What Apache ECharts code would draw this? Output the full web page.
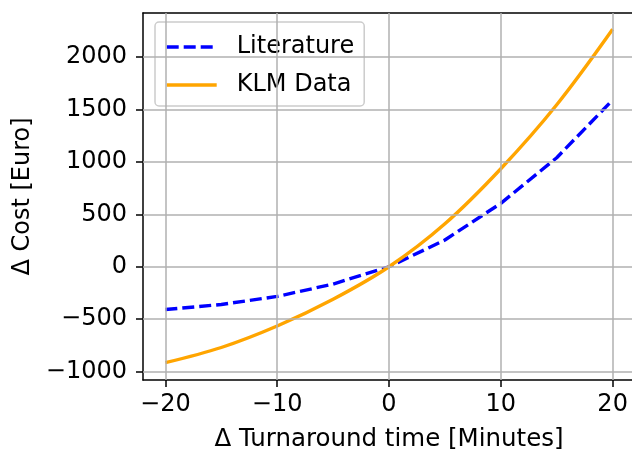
<!DOCTYPE html>
<html>
<head>
<meta charset="utf-8">
<script src="https://cdn.jsdelivr.net/npm/echarts@6/dist/echarts.min.js"></script>
<style>html,body{margin:0;padding:0;background:#fff}#c{width:632px;height:451px}</style>
</head>
<body>
<div id="c"></div>
<script>
var xValues = [-20, -15, -10, -5, 0, 5, 10, 15, 20];
var literature = [-408, -360, -283, -165, 0, 255, 605, 1040, 1590];
var klmData = [-915, -770, -565, -310, 0, 410, 935, 1545, 2265];
var xTicks = [-20, -10, 0, 10, 20];
var yTicks = [-1000, -500, 0, 500, 1000, 1500, 2000];

function pairs(xs, ys) { return xs.map(function (x, i) { return [x, ys[i]]; }); }
function fmt(v) { return String(v).replace('-', '\u2212'); }
var FONT = 'DejaVu Sans';
var FS = 24;
var chart = echarts.init(document.getElementById('c'), null, { renderer: 'canvas' });
chart.setOption({
  animation: false,
  backgroundColor: '#fff',
  grid: { left: 143, top: 13, width: 492, height: 367, show: false, containLabel: false, outerBoundsMode: 'none' },
  xAxis: [{
    type: 'value', min: -22, max: 22,
    name: '\u0394 Turnaround time [Minutes]', nameLocation: 'middle', nameGap: 47,
    nameTextStyle: { fontFamily: FONT, fontSize: 24.5, color: '#000' },
    axisLine: { show: true, onZero: false, lineStyle: { color: '#000', width: 1.5 } },
    axisTick: { show: true, inside: false, length: 7, lineStyle: { color: '#000', width: 1.5 }, customValues: xTicks },
    axisLabel: { customValues: xTicks, formatter: fmt, fontFamily: FONT, fontSize: FS, color: '#000', margin: 13 },
    splitLine: { show: false }
  }, {
    type: 'value', min: -22, max: 22, position: 'top',
    axisLine: { show: true, onZero: false, lineStyle: { color: '#000', width: 1.5 } },
    axisTick: { show: false }, axisLabel: { show: false }, splitLine: { show: false }
  }],
  yAxis: {
    type: 'value', min: -1080, max: 2420,
    name: '\u0394 Cost [Euro]', nameLocation: 'middle', nameGap: 106,
    nameTextStyle: { fontFamily: FONT, fontSize: FS, color: '#000' },
    axisLine: { show: true, onZero: false, lineStyle: { color: '#000', width: 1.5 } },
    axisTick: { show: true, inside: false, length: 7, lineStyle: { color: '#000', width: 1.5 }, customValues: yTicks },
    axisLabel: { customValues: yTicks, formatter: fmt, fontFamily: FONT, fontSize: FS, color: '#000', margin: 16 },
    splitLine: { show: false }
  },
  legend: {
    orient: 'vertical', left: 155, top: 22,
    itemWidth: 50, itemHeight: 14, itemGap: 14,
    padding: [13, 10, 9, 10],
    borderColor: '#cccccc', borderWidth: 1.5, borderRadius: 4,
    backgroundColor: 'rgba(255,255,255,0.8)',
    itemStyle: { opacity: 0 },
    lineStyle: { width: 3.4 },
    textStyle: { fontFamily: FONT, fontSize: FS, color: '#000', padding: [0, 0, 0, 15] },
    data: ['Literature', 'KLM Data']
  },
  series: [
    {
      name: 'Grid', type: 'line', data: [], silent: true,
      markLine: {
        silent: true, symbol: 'none', label: { show: false },
        lineStyle: { color: '#b0b0b0', width: 1.5, type: 'solid' },
        data: xTicks.map(function (v) { return { xAxis: v }; }).concat(yTicks.map(function (v) { return { yAxis: v }; }))
      }
    },
    {
      name: 'Literature', type: 'line', data: pairs(xValues, literature),
      symbol: 'none', smooth: false, color: '#0000ff',
      lineStyle: { color: '#0000ff', width: 3.4, type: [12, 5] }, z: 3
    },
    {
      name: 'KLM Data', type: 'line', data: pairs(xValues, klmData),
      symbol: 'none', smooth: 0.35, color: '#ffa500',
      lineStyle: { color: '#ffa500', width: 3.4 }, z: 4
    }
  ]
});
</script>
</body>
</html>
